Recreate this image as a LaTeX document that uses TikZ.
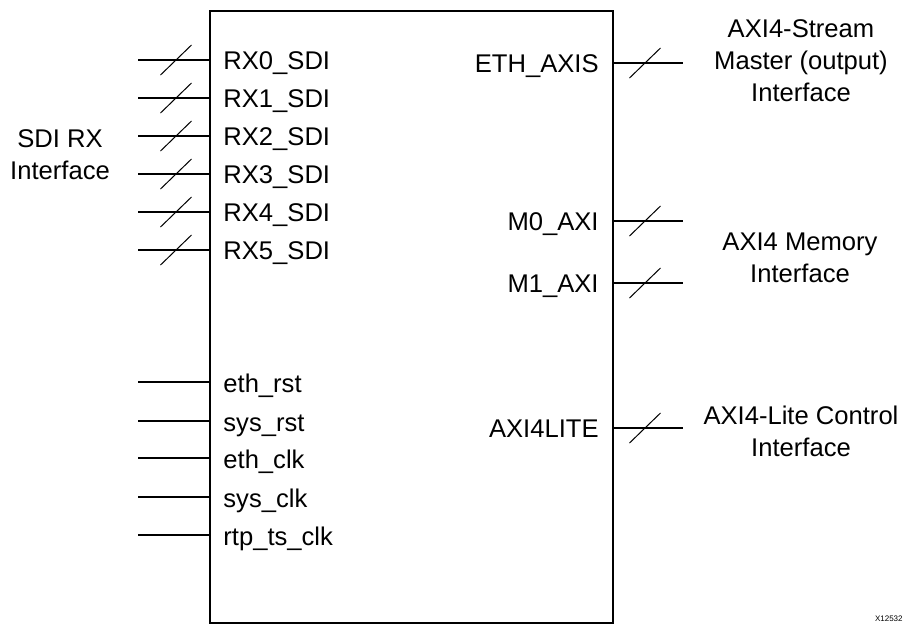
\documentclass[tikz,border=0pt]{standalone}
\usepackage{fontspec}
\setmainfont{Liberation Sans}
\usepackage{tikz}
\usetikzlibrary{positioning,calc}
\tikzset{
  ipblock/.style={draw, line width=1pt, minimum width=201.5pt, minimum height=306pt,
    anchor=north west, inner sep=0pt},
  ipwire/.style={line width=1pt},
  ipslash/.style={line width=0.5pt},
  pinlabel/.style={font=\fontsize{12.8}{16}\selectfont, inner sep=0pt},
  grouplabel/.style={font=\fontsize{12.8}{16}\selectfont, align=center, inner sep=0pt},
  figtag/.style={font=\fontsize{4}{5}\selectfont, inner sep=0pt, anchor=base east}
}

\begin{document}
\begin{tikzpicture}[x=0.5pt, y=-0.5pt]
  \useasboundingbox (0,0) rectangle (906,623);
  \node[ipblock] (core) at (209,10) {};
  % SDI bus inputs
  \foreach \i/\y in {0/60,1/98,2/136,3/174,4/212,5/250} {
    \coordinate (rxin\i) at (138,\y);
    \draw[ipwire] (rxin\i) -- (rxin\i -| core.west);
    \draw[ipslash] ($(rxin\i)+(38,0)$) ++(-15.5,15) -- ++(31,-30);
    \node[pinlabel, anchor=base west] (rx\i) at ($(rxin\i -| core.west)+(14,9)$) {RX\i\_SDI};
  }
  % resets and clocks
  \foreach \txt/\y [count=\k] in {eth\_rst/382,sys\_rst/421,eth\_clk/458,sys\_clk/497,rtp\_ts\_clk/535} {
    \coordinate (ckin\k) at (138,\y);
    \draw[ipwire] (ckin\k) -- (ckin\k -| core.west);
    \node[pinlabel, anchor=base west] (ck\k) at ($(ckin\k -| core.west)+(14,10)$) {\txt};
  }
  % bus outputs
  \foreach \txt/\y [count=\k] in {ETH\_AXIS/63,M0\_AXI/221,M1\_AXI/283,AXI4LITE/428} {
    \coordinate (bout\k) at (683,\y);
    \draw[ipwire] (bout\k -| core.east) -- (bout\k);
    \draw[ipslash] ($(bout\k)+(-38,0)$) ++(-15.5,15) -- ++(31,-30);
    \node[pinlabel, anchor=base east] (bo\k) at ($(bout\k -| core.east)+(-15,9.5)$) {\txt};
  }
  % interface groups
  \node[grouplabel] (sdirx) at (60,155) {SDI RX\\Interface};
  \node[grouplabel] (axis) at (801,61) {AXI4-Stream\\Master (output)\\Interface};
  \node[grouplabel] (axmem) at (800,258) {AXI4 Memory\\Interface};
  \node[grouplabel] (axlite) at (801,431) {AXI4-Lite Control\\Interface};
  \node[figtag] (tag) at (903,621) {X12532};
\end{tikzpicture}
\end{document}
